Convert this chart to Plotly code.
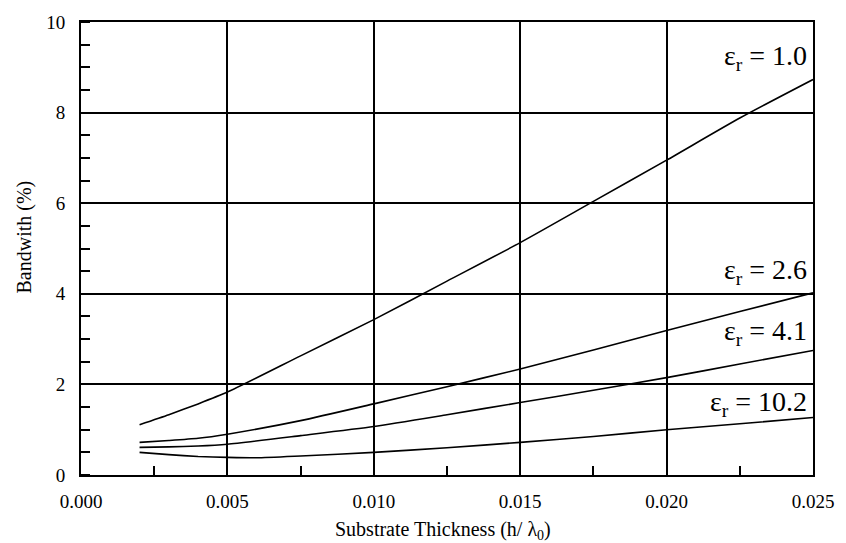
import plotly.graph_objects as go

# Data
x_er10 = [0.002, 0.003, 0.004, 0.005, 0.0075, 0.010, 0.0125, 0.015, 0.0175, 0.020, 0.0225, 0.025]
y_er10 = [1.11, 1.33, 1.57, 1.83, 2.63, 3.43, 4.28, 5.13, 6.04, 6.95, 7.88, 8.73]

x_er26 = [0.002, 0.003, 0.004, 0.005, 0.0075, 0.010, 0.0125, 0.015, 0.0175, 0.020, 0.0225, 0.025]
y_er26 = [0.72, 0.76, 0.81, 0.90, 1.20, 1.57, 1.95, 2.34, 2.76, 3.19, 3.61, 4.02]

x_er41 = [0.002, 0.003, 0.004, 0.005, 0.0075, 0.010, 0.0125, 0.015, 0.0175, 0.020, 0.0225, 0.025]
y_er41 = [0.61, 0.62, 0.64, 0.68, 0.87, 1.07, 1.33, 1.60, 1.87, 2.15, 2.45, 2.75]

x_er102 = [0.002, 0.003, 0.004, 0.005, 0.006, 0.0075, 0.010, 0.0125, 0.015, 0.0175, 0.020, 0.0225, 0.025]
y_er102 = [0.50, 0.45, 0.41, 0.39, 0.38, 0.42, 0.50, 0.60, 0.72, 0.85, 1.00, 1.13, 1.27]

label_text = ["ε<sub>r</sub> = 1.0", "ε<sub>r</sub> = 2.6", "ε<sub>r</sub> = 4.1", "ε<sub>r</sub> = 10.2"]
label_y = [9.22, 4.50, 3.15, 1.58]

x_ticks = [0.000, 0.005, 0.010, 0.015, 0.020, 0.025]
x_tick_text = ["0.000", "0.005", "0.010", "0.015", "0.020", "0.025"]
y_ticks = [0, 2, 4, 6, 8, 10]

FONT = "Liberation Serif, Times New Roman, serif"

fig = go.Figure()
for xs, ys in [(x_er10, y_er10), (x_er26, y_er26), (x_er41, y_er41), (x_er102, y_er102)]:
    fig.add_trace(go.Scatter(x=xs, y=ys, mode="lines",
                             line=dict(color="black", width=1.6, shape="spline", smoothing=0.6),
                             showlegend=False, hoverinfo="skip"))

for txt, yy in zip(label_text, label_y):
    fig.add_annotation(x=0.02485, y=yy, xref="x", yref="y", text=txt, showarrow=False,
                       xanchor="right", yanchor="middle",
                       font=dict(family=FONT, size=28, color="black"))

fig.add_annotation(xref="paper", yref="paper", x=0.5, y=0, text="Substrate Thickness (h/ λ<sub>0</sub>)",
                   showarrow=False, xanchor="center", yanchor="middle", yshift=-55, xshift=-4,
                   font=dict(family=FONT, size=20, color="black"))
fig.add_annotation(xref="paper", yref="paper", x=0, y=0.5, text="Bandwith (%)", textangle=-90,
                   showarrow=False, xanchor="center", yanchor="middle", xshift=-57, yshift=11,
                   font=dict(family=FONT, size=20, color="black"))

fig.update_layout(
    width=846, height=543,
    margin=dict(l=81, r=25, t=17, b=68),
    paper_bgcolor="white", plot_bgcolor="white",
    font=dict(family=FONT, size=19, color="black"),
    xaxis=dict(range=[0, 0.025], tickvals=x_ticks, ticktext=x_tick_text,
               showgrid=True, gridcolor="black", gridwidth=1.5,
               showline=True, linecolor="black", linewidth=2, mirror=True,
               ticks="", ticklabelstandoff=8, zeroline=False,
               minor=dict(tickvals=[0.0025, 0.0075, 0.0125, 0.0175, 0.0225], ticks="inside",
                          ticklen=9, tickcolor="black", tickwidth=1.5, showgrid=False)),
    yaxis=dict(range=[0, 10], tickvals=y_ticks,
               showgrid=True, gridcolor="black", gridwidth=1.5,
               showline=True, linecolor="black", linewidth=2, mirror=True,
               ticks="", ticklabelstandoff=10, zeroline=False,
               minor=dict(dtick=0.5, tick0=0, ticks="inside",
                          ticklen=9, tickcolor="black", tickwidth=1.5, showgrid=False)),
)

fig.write_html("out.html")
